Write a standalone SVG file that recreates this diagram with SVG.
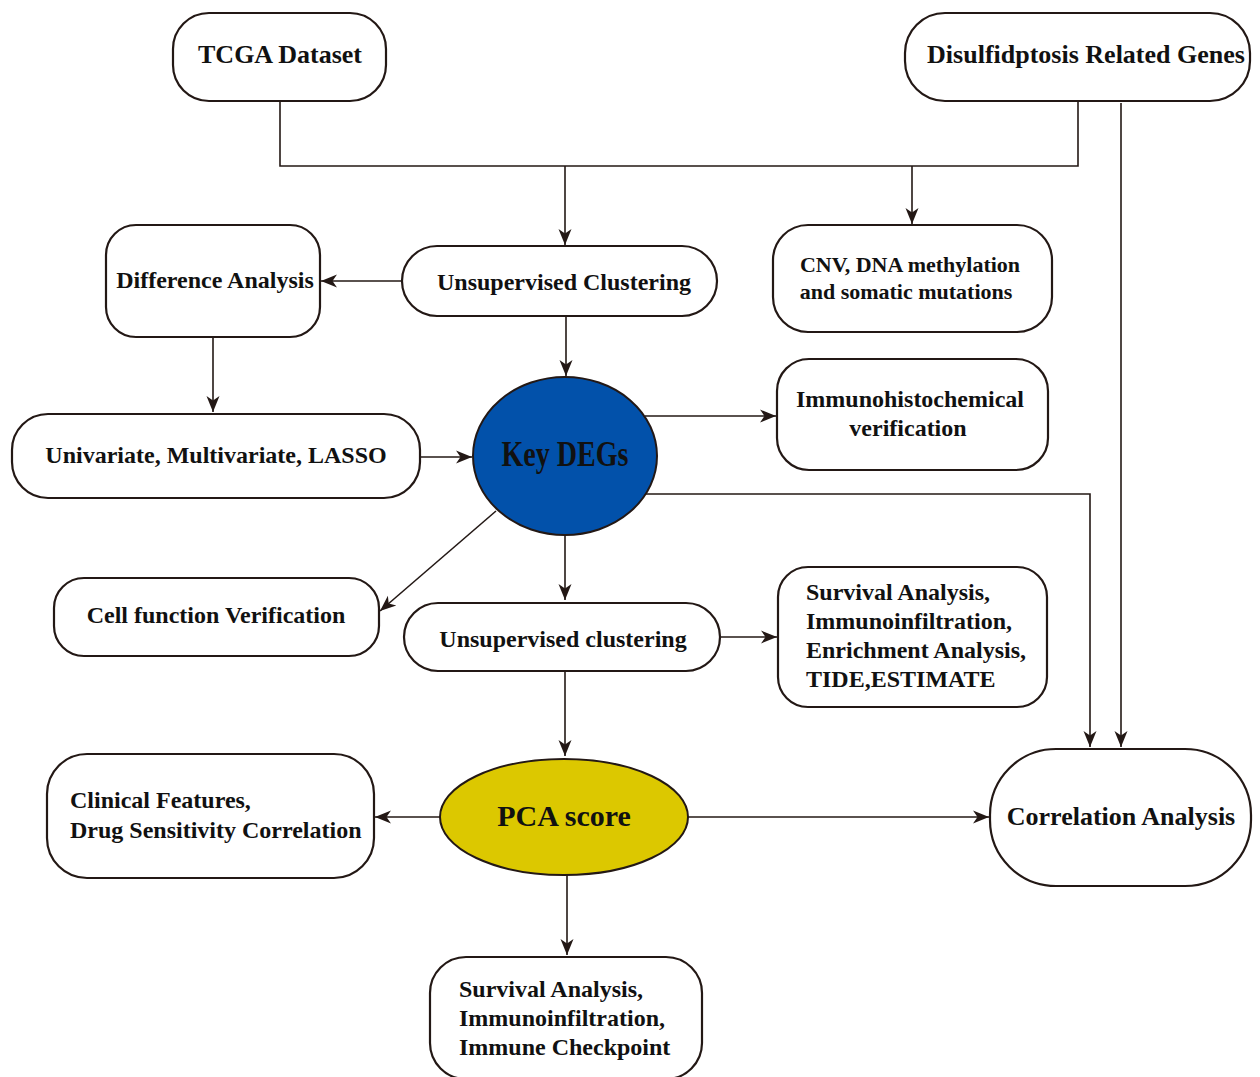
<svg xmlns="http://www.w3.org/2000/svg" width="1260" height="1077" viewBox="0 0 1260 1077">
<style>
.box{fill:#fff;stroke:#231815;stroke-width:2.2}
.t{font-family:"Liberation Serif","Times New Roman",serif;font-weight:bold;fill:#111;font-size:24px}
.c{text-anchor:middle}
.big{font-size:26px}
.con{fill:none;stroke:#231815;stroke-width:1.6}
</style>
<defs>
<marker id="ah" markerUnits="userSpaceOnUse" markerWidth="16" markerHeight="16" viewBox="0 0 16 16" refX="16" refY="8" orient="auto">
<path d="M0,1.5 L16,8 L0,14.5 L4.5,8 z" fill="#231815"/>
</marker>
</defs>
<rect width="1260" height="1077" fill="#fff"/>
<g id="connectors">
<path class="con" d="M280,101 V166 H1078 V101"/>
<path class="con" d="M565,166 V245" marker-end="url(#ah)"/>
<path class="con" d="M912,166 V224" marker-end="url(#ah)"/>
<path class="con" d="M1121,103 V747" marker-end="url(#ah)"/>
<path class="con" d="M402,281 H321" marker-end="url(#ah)"/>
<path class="con" d="M566,316 V376" marker-end="url(#ah)"/>
<path class="con" d="M213,337 V412" marker-end="url(#ah)"/>
<path class="con" d="M417,457 H472" marker-end="url(#ah)"/>
<path class="con" d="M645,416 H776" marker-end="url(#ah)"/>
<path class="con" d="M645,494 H1090 V747" marker-end="url(#ah)"/>
<path class="con" d="M496,511 L380,611" marker-end="url(#ah)"/>
<path class="con" d="M565,535 V600" marker-end="url(#ah)"/>
<path class="con" d="M720,637 H777" marker-end="url(#ah)"/>
<path class="con" d="M565,671 V756" marker-end="url(#ah)"/>
<path class="con" d="M440,817 H375" marker-end="url(#ah)"/>
<path class="con" d="M688,817 H989" marker-end="url(#ah)"/>
<path class="con" d="M567,875 V955" marker-end="url(#ah)"/>
</g>
<g id="tcga">
<rect class="box" x="173" y="13" width="213" height="88" rx="36"/>
<text class="t big c" x="280" y="63">TCGA Dataset</text>
</g>
<g id="drg">
<rect class="box" x="905" y="13" width="345" height="88" rx="40"/>
<text class="t big c" x="1086" y="63">Disulfidptosis Related Genes</text>
</g>
<g id="diff">
<rect class="box" x="106" y="225" width="214" height="112" rx="30"/>
<text class="t c" x="215" y="288">Difference Analysis</text>
</g>
<g id="uc1">
<rect class="box" x="402" y="246" width="315" height="70" rx="35"/>
<text class="t c" x="564" y="290">Unsupervised Clustering</text>
</g>
<g id="cnv">
<rect class="box" x="773" y="225" width="279" height="107" rx="35"/>
<text class="t c" x="910" y="272" style="font-size:22px">CNV, DNA methylation</text>
<text class="t c" x="906" y="299" style="font-size:22px">and somatic mutations</text>
</g>
<g id="keydegs">
<ellipse cx="565" cy="456" rx="92" ry="79" fill="#0251AA" stroke="#231815" stroke-width="2"/>
<text class="t c" x="565" y="466" style="font-size:35px" textLength="127" lengthAdjust="spacingAndGlyphs">Key DEGs</text>
</g>
<g id="uni">
<rect class="box" x="12" y="414" width="408" height="84" rx="36"/>
<text class="t c" x="216" y="463">Univariate, Multivariate, LASSO</text>
</g>
<g id="ihc">
<rect class="box" x="777" y="359" width="271" height="111" rx="32"/>
<text class="t c" x="910" y="407">Immunohistochemical</text>
<text class="t c" x="908" y="436">verification</text>
</g>
<g id="cell">
<rect class="box" x="54" y="578" width="325" height="78" rx="30"/>
<text class="t c" x="216" y="623">Cell function Verification</text>
</g>
<g id="uc2">
<rect class="box" x="404" y="603" width="316" height="68" rx="34"/>
<text class="t c" x="563" y="647">Unsupervised clustering</text>
</g>
<g id="surv1">
<rect class="box" x="778" y="567" width="269" height="140" rx="30"/>
<text class="t" x="806" y="600">Survival Analysis,</text>
<text class="t" x="806" y="629">Immunoinfiltration,</text>
<text class="t" x="806" y="658">Enrichment Analysis,</text>
<text class="t" x="806" y="687">TIDE,ESTIMATE</text>
</g>
<g id="pca">
<ellipse cx="564" cy="817" rx="124" ry="58" fill="#DCC800" stroke="#231815" stroke-width="2"/>
<text class="t c" x="564" y="826" style="font-size:30px">PCA score</text>
</g>
<g id="clin">
<rect class="box" x="47" y="754" width="327" height="124" rx="40"/>
<text class="t" x="70" y="808">Clinical Features,</text>
<text class="t" x="70" y="838">Drug Sensitivity Correlation</text>
</g>
<g id="corr">
<rect class="box" x="990" y="749" width="261" height="137" rx="66"/>
<text class="t big c" x="1121" y="825">Correlation Analysis</text>
</g>
<g id="surv2">
<rect class="box" x="430" y="957" width="272" height="122" rx="36"/>
<text class="t" x="459" y="997">Survival Analysis,</text>
<text class="t" x="459" y="1026">Immunoinfiltration,</text>
<text class="t" x="459" y="1055">Immune Checkpoint</text>
</g>
</svg>
